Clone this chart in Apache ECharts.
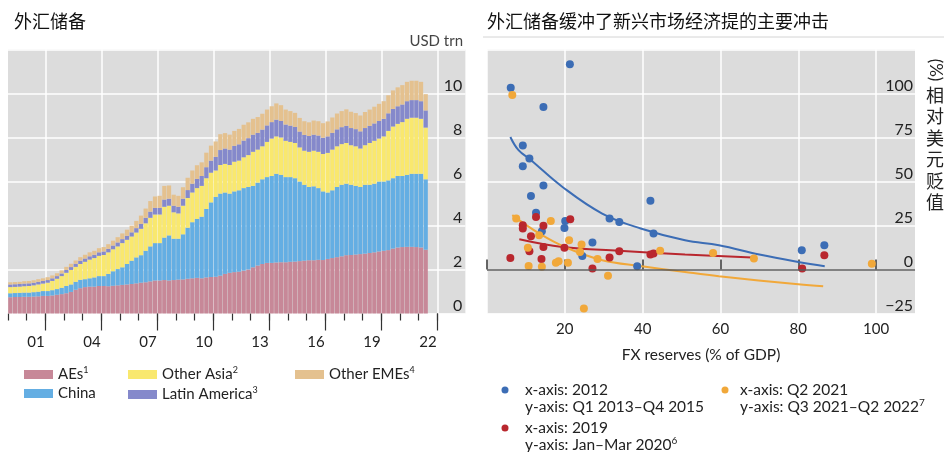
<!DOCTYPE html>
<html>
<head>
<meta charset="utf-8">
<title>外汇储备</title>
<script src="https://cdn.jsdelivr.net/npm/echarts@6/dist/echarts.min.js"></script>
<style>
  html, body { margin: 0; padding: 0; background: #fff; }
  #chart { width: 944px; height: 452px; }
</style>
</head>
<body>
<div id="chart"></div>
<script>
// left panel: FX reserves by region, quarterly 2000Q1-2022Q2, USD trn
var aes = [
  0.74, 0.75, 0.75, 0.76,  0.76, 0.77, 0.78, 0.80,  0.80, 0.82, 0.85, 0.88,
  0.92, 0.98, 1.08, 1.15,  1.20, 1.22, 1.22, 1.25,  1.25, 1.24, 1.26, 1.28,
  1.30, 1.32, 1.34, 1.37,  1.40, 1.42, 1.46, 1.50,  1.50, 1.52, 1.50, 1.52,
  1.54, 1.55, 1.58, 1.60,  1.62, 1.60, 1.64, 1.66,  1.67, 1.72, 1.80, 1.85,
  1.88, 1.90, 1.95, 2.00,  2.10, 2.18, 2.25, 2.30,  2.30, 2.32, 2.33, 2.33,
  2.35, 2.36, 2.38, 2.40,  2.42, 2.42, 2.44, 2.43,  2.48, 2.52, 2.56, 2.60,
  2.65, 2.66, 2.68, 2.70,  2.72, 2.75, 2.78, 2.82,  2.85, 2.88, 2.95, 3.00,
  3.02, 3.03, 3.03, 3.02,  3.00, 2.90
];
var china = [
  0.18, 0.18, 0.19, 0.19,  0.19, 0.20, 0.21, 0.22,  0.22, 0.24, 0.26, 0.29,
  0.33, 0.34, 0.36, 0.38,  0.36, 0.38, 0.42, 0.45,  0.45, 0.56, 0.66, 0.74,
  0.80, 0.93, 1.06, 1.18,  1.25, 1.43, 1.59, 1.70,  1.70, 1.93, 2.05, 1.88,
  1.86, 2.05, 2.32, 2.55,  2.68, 2.80, 3.11, 3.39,  3.63, 3.73, 3.70, 3.60,
  3.67, 3.70, 3.75, 3.75,  3.70, 3.77, 3.85, 3.90,  3.95, 4.03, 3.97, 3.87,
  3.85, 3.79, 3.62, 3.45,  3.33, 3.36, 3.26, 3.12,  3.02, 3.08, 3.19, 3.25,
  3.25, 3.19, 3.12, 3.05,  3.13, 3.10, 3.12, 3.18,  3.15, 3.17, 3.20, 3.25,
  3.23, 3.27, 3.32, 3.33,  3.35, 3.20
];
var otherAsia = [
  0.28, 0.28, 0.28, 0.29,  0.30, 0.31, 0.33, 0.34,  0.38, 0.42, 0.47, 0.53,
  0.60, 0.66, 0.68, 0.72,  0.79, 0.85, 0.88, 0.92,  0.96, 0.98, 1.00, 1.03,
  1.10, 1.10, 1.10, 1.13,  1.20, 1.25, 1.30, 1.30,  1.30, 1.40, 1.35, 1.20,
  1.15, 1.30, 1.35, 1.35,  1.40, 1.40, 1.40, 1.35,  1.20, 1.30, 1.30, 1.30,
  1.35, 1.35, 1.40, 1.45,  1.55, 1.50, 1.50, 1.60,  1.70, 1.70, 1.70, 1.65,
  1.60, 1.60, 1.55, 1.55,  1.60, 1.62, 1.65, 1.70,  1.80, 1.85, 1.85, 1.85,
  1.85, 1.80, 1.80, 1.75,  1.80, 1.90, 1.95, 1.95,  2.05, 2.25, 2.35, 2.37,
  2.45, 2.55, 2.55, 2.55,  2.50, 2.35
];
var latinAmerica = [
  0.12, 0.12, 0.12, 0.12,  0.12, 0.12, 0.12, 0.12,  0.12, 0.12, 0.12, 0.12,
  0.13, 0.13, 0.14, 0.15,  0.15, 0.15, 0.15, 0.16,  0.16, 0.16, 0.17, 0.18,
  0.18, 0.18, 0.19, 0.20,  0.22, 0.25, 0.28, 0.30,  0.30, 0.33, 0.32, 0.30,
  0.30, 0.32, 0.36, 0.40,  0.42, 0.45, 0.50, 0.55,  0.62, 0.68, 0.70, 0.70,
  0.72, 0.74, 0.76, 0.77,  0.78, 0.76, 0.76, 0.75,  0.75, 0.76, 0.75, 0.74,
  0.74, 0.73, 0.72, 0.72,  0.72, 0.73, 0.74, 0.74,  0.75, 0.76, 0.77, 0.77,
  0.78, 0.78, 0.78, 0.78,  0.78, 0.78, 0.79, 0.80,  0.80, 0.80, 0.80, 0.80,
  0.80, 0.80, 0.80, 0.80,  0.80, 0.78
];
var otherEmes = [
  0.10, 0.10, 0.10, 0.11,  0.11, 0.11, 0.12, 0.12,  0.13, 0.13, 0.13, 0.14,
  0.14, 0.15, 0.15, 0.16,  0.17, 0.18, 0.18, 0.19,  0.20, 0.21, 0.22, 0.24,
  0.26, 0.28, 0.30, 0.33,  0.38, 0.42, 0.48, 0.52,  0.55, 0.62, 0.60, 0.50,
  0.50, 0.52, 0.56, 0.60,  0.62, 0.62, 0.66, 0.68,  0.70, 0.72, 0.70, 0.68,
  0.68, 0.70, 0.72, 0.72,  0.72, 0.72, 0.72, 0.72,  0.72, 0.74, 0.72, 0.68,
  0.66, 0.64, 0.62, 0.62,  0.62, 0.64, 0.65, 0.66,  0.68, 0.70, 0.72, 0.73,
  0.75, 0.74, 0.73, 0.72,  0.73, 0.74, 0.76, 0.78,  0.80, 0.82, 0.84, 0.86,
  0.88, 0.88, 0.88, 0.88,  0.88, 0.74
];
var yearTicks = [2000, 2001, 2002, 2003, 2004, 2005, 2006, 2007, 2008, 2009, 2010, 2011,
                 2012, 2013, 2014, 2015, 2016, 2017, 2018, 2019, 2020, 2021, 2022, 2023];
var majorTicks = [2002, 2005, 2008, 2011, 2014, 2017, 2020, 2023];
var yearLabelPos = [2001.5, 2004.5, 2007.5, 2010.5, 2013.5, 2016.5, 2019.5, 2022.5];
var yearLabels = ['01', '04', '07', '10', '13', '16', '19', '22'];

// right panel: [FX reserves % of GDP, depreciation vs USD %]
var pts2012 = [
  [21.3, 116.6], [6.1, 103.2], [14.5, 92.4], [9.2, 70.5], [10.9, 63.1], [9.2, 58.7],
  [14.5, 47.7], [11.3, 41.8], [42.0, 39.0], [12.6, 32.2], [20.1, 27.6], [31.5, 29.0],
  [34.0, 27.0], [19.9, 23.6], [14.1, 21.8], [42.8, 20.5], [27.1, 15.3], [24.5, 7.6],
  [38.6, 1.9], [80.9, 11.0], [86.7, 13.8]
];
var pts2019 = [
  [12.6, 29.9], [21.4, 28.6], [9.2, 25.2], [14.5, 24.8], [9.2, 23.3], [11.3, 18.9],
  [14.5, 12.8], [19.9, 12.3], [10.9, 10.4], [34.0, 10.4], [42.0, 8.5], [42.8, 9.1],
  [31.5, 6.8], [6.0, 6.6], [14.0, 6.0], [27.1, 0.6], [86.7, 8.1], [81.0, 0.6]
];
var pts2021 = [
  [6.5, 99.2], [7.5, 29.0], [16.4, 27.6], [13.4, 19.5], [21.1, 16.6], [24.3, 14.2],
  [10.5, 12.3], [23.9, 10.0], [44.5, 10.6], [28.4, 5.9], [18.4, 4.7], [17.7, 3.8],
  [20.8, 3.8], [10.7, 2.0], [14.1, 1.5], [31.1, -3.6], [24.9, -22.2], [58.1, 9.4],
  [68.6, 6.2], [98.9, 3.2]
];
// fitted curves
var fit2012 = [[6.0, 75.3], [8.1, 67.8], [11.1, 62.5], [19.4, 46.9], [29.6, 31.8], [39.5, 23.3],
               [50.9, 16.6], [59.6, 13.8], [70.0, 8.5], [80.0, 4.3], [86.8, 1.9]];
var fit2019 = [[8.3, 17.2], [19.4, 12.8], [33.9, 10.6], [50.9, 8.5], [68.1, 6.8]];
var fit2021 = [[6.5, 30.9], [13.4, 20.5], [20.3, 12.5], [29.6, 5.3], [39.8, 1.9], [50.9, -1.4],
               [59.6, -3.8], [80.0, -8.4], [86.4, -9.5]];
var xTicksR = [0, 20, 40, 60, 80, 100];

var LAT = 'Lato, "Noto Sans", sans-serif';
var CJK = '"Noto Sans CJK SC", sans-serif';
var TXT = '#222';

// quarter categories 2000Q1..2024Q2 (the panel runs on past the last observation)
var quarters = [];
for (var y = 2000; y <= 2024; y++) {
  for (var q = 1; q <= 4; q++) {
    if (y === 2024 && q > 2) break;
    quarters.push(y + 'Q' + q);
  }
}
var X_MAX = 2000 + quarters.length / 4;

var regions = [
  { name: 'AEs', data: aes, color: '#c78898', sup: '1' },
  { name: 'China', data: china, color: '#64aee3', sup: '' },
  { name: 'Other Asia', data: otherAsia, color: '#f9e86e', sup: '2' },
  { name: 'Latin America', data: latinAmerica, color: '#8589cb', sup: '3' },
  { name: 'Other EMEs', data: otherEmes, color: '#e4c18f', sup: '4' }
];
var legendPos = [[24, 366], [24, 386], [128, 366], [128, 386], [295, 366]];

var barSeries = regions.map(function (r) {
  return {
    name: r.name, type: 'bar', stack: 'fx',
    xAxisIndex: 0, yAxisIndex: 0,
    barWidth: '91%',
    itemStyle: { color: r.color },
    data: r.data
  };
});

var legends = regions.map(function (r, i) {
  return {
    data: [r.name], left: legendPos[i][0], top: legendPos[i][1], padding: 0,
    icon: 'rect', itemWidth: 29, itemHeight: 9, selectedMode: false,
    formatter: function (n) { return r.sup ? '{t|' + n + '}{s|' + r.sup + '}' : '{t|' + n + '}'; },
    textStyle: {
      rich: {
        t: { fontSize: 15, fontFamily: LAT, color: TXT },
        s: { fontSize: 9, fontFamily: LAT, color: TXT, padding: [0, 0, 8, 0] }
      }
    }
  };
});

var rich = { s: { fontSize: 10, fontFamily: LAT, fill: TXT, padding: [0, 0, 8, 0] } };
function legendText(x, y, text) {
  return { type: 'text', x: x, y: y,
    style: { text: text, font: '15.5px ' + LAT, fill: TXT, lineHeight: 17, verticalAlign: 'top', rich: rich } };
}
function dot(x, y, c) {
  return { type: 'circle', shape: { cx: x, cy: y, r: 3.5 }, style: { fill: c } };
}

var chart = echarts.init(document.getElementById('chart'));
chart.setOption({
  animation: false,
  title: [
    { text: '外汇储备', left: 14, top: 12, padding: 0,
      textStyle: { fontSize: 18, fontWeight: 'normal', color: '#111', fontFamily: CJK } },
    { text: '外汇储备缓冲了新兴市场经济提的主要冲击', left: 487, top: 12, padding: 0,
      textStyle: { fontSize: 18, fontWeight: 'normal', color: '#111', fontFamily: CJK } }
  ],
  legend: legends,
  grid: [
    { left: 8, top: 49.5, width: quarters.length * 4.667, height: 264, show: true, backgroundColor: '#dcdcdc', borderWidth: 0 },
    { left: 487, top: 49.5, width: 428, height: 264, show: true, backgroundColor: '#dcdcdc', borderWidth: 0 }
  ],
  xAxis: [
    { type: 'category', gridIndex: 0, data: quarters, boundaryGap: true,
      axisLine: { show: false }, axisTick: { show: false }, axisLabel: { show: false }, splitLine: { show: false } },
    { type: 'value', gridIndex: 0, position: 'bottom', min: 2000, max: X_MAX,
      axisLine: { show: false },
      axisTick: { show: true, customValues: yearTicks, length: 7, lineStyle: { color: '#333', width: 1.2 } },
      axisLabel: { customValues: yearLabelPos, margin: 21, fontSize: 15, fontFamily: LAT, color: TXT,
        formatter: function (v) { return yearLabels[yearLabelPos.indexOf(v)] || ''; } },
      splitLine: { show: false } },
    { type: 'value', gridIndex: 0, position: 'bottom', min: 2000, max: X_MAX,
      axisLine: { show: false },
      axisTick: { show: true, customValues: majorTicks, length: 17, lineStyle: { color: '#333', width: 1.2 } },
      axisLabel: { show: false },
      splitLine: { show: true, lineStyle: { color: '#fff', width: 1.5 } } },
    { type: 'value', gridIndex: 1, min: 0, max: 110,
      axisLine: { show: false },
      axisTick: { show: true, inside: true, length: 10, customValues: xTicksR, lineStyle: { color: '#333', width: 1.5 } },
      axisLabel: { customValues: [20, 40, 60, 80, 100], margin: 8, fontSize: 15, fontFamily: LAT, color: TXT },
      splitLine: { show: true, lineStyle: { color: '#fff', width: 1.5 } },
      name: 'FX reserves (% of GDP)', nameLocation: 'middle', nameGap: 33,
      nameTextStyle: { fontSize: 15.5, fontFamily: LAT, color: TXT } }
  ],
  yAxis: [
    { type: 'value', gridIndex: 0, position: 'right', min: 0, max: 12, interval: 2,
      axisLine: { show: false }, axisTick: { show: false },
      axisLabel: { inside: true, margin: 3, verticalAlign: 'bottom', fontSize: 16, fontFamily: LAT, color: TXT,
        formatter: function (v) { return v === 12 ? '' : String(v); } },
      splitLine: { show: true, lineStyle: { color: '#fff', width: 1.5 } } },
    { type: 'value', gridIndex: 1, position: 'right', min: -25, max: 125, interval: 25,
      axisLine: { show: false }, axisTick: { show: false },
      axisLabel: { inside: true, margin: 2, verticalAlign: 'bottom', fontSize: 16, fontFamily: LAT, color: TXT,
        formatter: function (v) { return v === 125 ? '' : (v < 0 ? '\u2212' + (-v) : String(v)); } },
      splitLine: { show: true, lineStyle: { color: '#fff', width: 1.5 } } }
  ],
  series: barSeries.concat([
    { type: 'line', xAxisIndex: 3, yAxisIndex: 1, data: fit2012, smooth: 0.4, showSymbol: false,
      lineStyle: { color: '#3c6db5', width: 2 }, z: 3,
      markLine: { silent: true, symbol: 'none', label: { show: false },
        lineStyle: { color: '#5a5a5a', width: 1.5, type: 'solid' }, data: [{ yAxis: 0 }] } },
    { type: 'line', xAxisIndex: 3, yAxisIndex: 1, data: fit2019, smooth: 0.4, showSymbol: false,
      lineStyle: { color: '#b9272e', width: 2 }, z: 3 },
    { type: 'line', xAxisIndex: 3, yAxisIndex: 1, data: fit2021, smooth: 0.4, showSymbol: false,
      lineStyle: { color: '#f1a83a', width: 2 }, z: 3 },
    { type: 'scatter', xAxisIndex: 3, yAxisIndex: 1, data: pts2012, symbolSize: 8,
      itemStyle: { color: '#3c6db5', opacity: 1 }, z: 4 },
    { type: 'scatter', xAxisIndex: 3, yAxisIndex: 1, data: pts2019, symbolSize: 8,
      itemStyle: { color: '#b9272e', opacity: 1 }, z: 4 },
    { type: 'scatter', xAxisIndex: 3, yAxisIndex: 1, data: pts2021, symbolSize: 8,
      itemStyle: { color: '#f1a83a', opacity: 1 }, z: 4 }
  ]),
  graphic: [
    { type: 'line', shape: { x1: 483, y1: 37, x2: 944, y2: 37 }, style: { stroke: '#d4d4d4', lineWidth: 1 } },
    { type: 'text', x: 463, y: 41, style: { text: 'USD trn', font: '15px ' + LAT, fill: '#444', align: 'right', verticalAlign: 'middle' } },
    { type: 'text', x: 935, y: 70, rotation: -Math.PI / 2,
      style: { text: '(%)', font: '17px ' + LAT, fill: TXT, align: 'center', verticalAlign: 'middle' } },
    { type: 'text', x: 935, y: 84,
      style: { text: '相\n对\n美\n元\n贬\n值', font: '18px ' + CJK, fill: TXT, align: 'center', verticalAlign: 'top', lineHeight: 21.5 } },
    dot(505, 390, '#3c6db5'),
    legendText(525, 381.5, 'x-axis: 2012\ny-axis: Q1 2013\u2013Q4 2015'),
    dot(505, 428, '#b9272e'),
    legendText(525, 419.5, 'x-axis: 2019\ny-axis: Jan\u2013Mar 2020{s|6}'),
    dot(725, 390, '#f1a83a'),
    legendText(740, 381.5, 'x-axis: Q2 2021\ny-axis: Q3 2021\u2013Q2 2022{s|7}')
  ]
});
window.addEventListener('resize', function () { chart.resize(); });
</script>
</body>
</html>
